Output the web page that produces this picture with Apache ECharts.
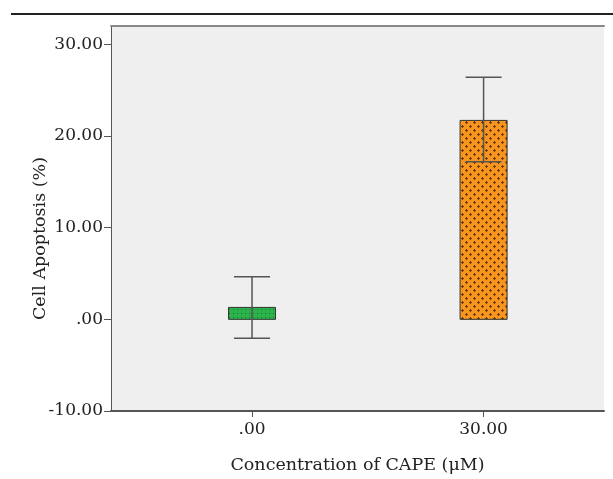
<!DOCTYPE html>
<html>
<head>
<meta charset="utf-8">
<script src="https://cdn.jsdelivr.net/npm/echarts@6/dist/echarts.min.js"></script>
<style>
  html, body { margin: 0; padding: 0; background: #fff; }
  #main { width: 613px; height: 479px; }
</style>
</head>
<body>
<div id="main"></div>
<script>
// categories on the x axis (position index -> label)
var categories = ['.00', '30.00']
// bar heights (mean cell apoptosis %)
var means = [1.3, 21.7]
// error bar ends
var errLow = [-2.05, 17.2]
var errHigh = [4.65, 26.4]
var yTicks = [-10, 0, 10, 20, 30]

function makePattern (kind) {
  var c = document.createElement('canvas')
  var ctx = c.getContext('2d')
  if (kind === 'dots') {
    c.width = 4; c.height = 4
    ctx.fillStyle = '#2bb24a'
    ctx.fillRect(0, 0, 4, 4)
    ctx.fillStyle = '#1a7a30'
    ctx.fillRect(1, 1, 1, 1)
  } else {
    c.width = 8; c.height = 8
    ctx.fillStyle = '#f7951e'
    ctx.fillRect(0, 0, 8, 8)
    ctx.fillStyle = '#6b3c08'
    var plus = function (x, y) {
      ctx.fillRect(x - 1, y, 3, 1)
      ctx.fillRect(x, y - 1, 1, 3)
    }
    plus(2, 2)
    plus(6, 6)
  }
  return { image: c, repeat: 'repeat' }
}

var fills = [makePattern('dots'), makePattern('cross')]

var barData = means.map(function (v, i) { return [i, v] })
var errData = errLow.map(function (v, i) { return [i, v, errHigh[i]] })

var font = 'DejaVu Serif'
var chart = echarts.init(document.getElementById('main'))

var option = {
  animation: false,
  graphic: [{
    type: 'line',
    shape: { x1: 11, y1: 14, x2: 613, y2: 14 },
    style: { stroke: '#222', lineWidth: 2 }
  }],
  grid: {
    left: 111, right: 9, top: 26, bottom: 64,
    show: true, backgroundColor: '#efefef', borderWidth: 0
  },
  xAxis: [{
    type: 'value',
    min: -0.609,
    max: 1.52,
    name: 'Concentration of CAPE (\u03bcM)',
    nameLocation: 'middle',
    nameGap: 45,
    nameTextStyle: { fontFamily: font, fontSize: 17.5, color: '#222' },
    axisLine: { show: true, onZero: false, lineStyle: { color: '#555', width: 2 } },
    axisTick: { show: true, inside: false, length: 6, customValues: [0, 1], lineStyle: { color: '#555' } },
    axisLabel: {
      customValues: [0, 1],
      margin: 10,
      fontFamily: font, fontSize: 17, color: '#222',
      formatter: function (v) { return categories[Math.round(v)] }
    },
    splitLine: { show: false }
  }, {
    type: 'value',
    position: 'top',
    min: -0.609,
    max: 1.52,
    axisLine: { show: true, onZero: false, lineStyle: { color: '#888', width: 2 } },
    axisTick: { show: false },
    axisLabel: { show: false },
    splitLine: { show: false }
  }],
  yAxis: {
    type: 'value',
    min: -10,
    max: 32,
    name: 'Cell Apoptosis (%)',
    nameLocation: 'middle',
    nameMoveOverlap: false,
    nameGap: 62,
    nameTextStyle: { fontFamily: font, fontSize: 17.5, color: '#222', padding: [0, 40, 0, 0] },
    axisLine: { show: true, onZero: false, lineStyle: { color: '#555', width: 1 } },
    axisTick: { show: true, length: 7, customValues: yTicks, lineStyle: { color: '#555' } },
    axisLabel: {
      customValues: yTicks,
      margin: 8,
      fontFamily: font, fontSize: 17, color: '#222',
      formatter: function (v) { return v === 0 ? '.00' : v.toFixed(2) }
    },
    splitLine: { show: false }
  },
  series: [{
    type: 'custom',
    data: barData,
    renderItem: function (params, api) {
      var i = api.value(0)
      var top = api.coord([i, api.value(1)])
      var base = api.coord([i, 0])
      var w = 47
      return {
        type: 'rect',
        shape: { x: top[0] - w / 2, y: top[1], width: w, height: base[1] - top[1] },
        style: { fill: fills[params.dataIndex], stroke: '#333', lineWidth: 1 }
      }
    }
  }, {
    type: 'custom',
    data: errData,
    z: 5,
    renderItem: function (params, api) {
      var i = api.value(0)
      var lo = api.coord([i, api.value(1)])
      var hi = api.coord([i, api.value(2)])
      var cw = 18
      var st = { stroke: '#555', lineWidth: 1.5 }
      return {
        type: 'group',
        children: [
          { type: 'line', shape: { x1: lo[0], y1: lo[1], x2: hi[0], y2: hi[1] }, style: st },
          { type: 'line', shape: { x1: lo[0] - cw, y1: lo[1], x2: lo[0] + cw, y2: lo[1] }, style: st },
          { type: 'line', shape: { x1: hi[0] - cw, y1: hi[1], x2: hi[0] + cw, y2: hi[1] }, style: st }
        ]
      }
    }
  }]
}

chart.setOption(option)
</script>
</body>
</html>
